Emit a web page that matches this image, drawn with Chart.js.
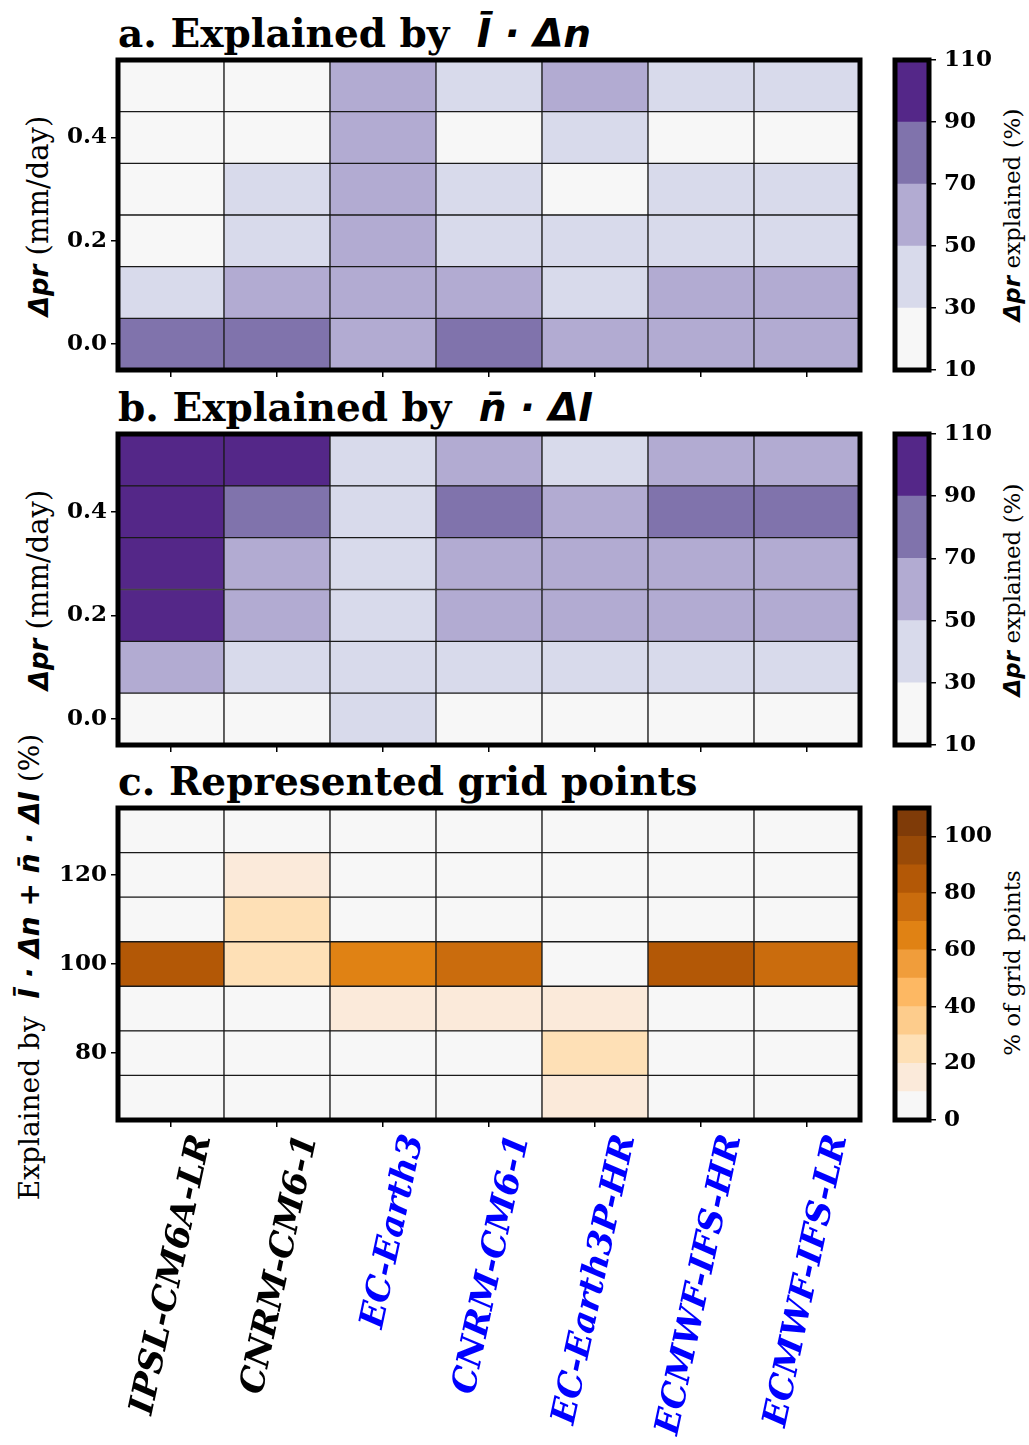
<!DOCTYPE html>
<html>
<head>
<meta charset="utf-8">
<script src="https://cdn.jsdelivr.net/npm/chart.js@4.4.1/dist/chart.umd.min.js"></script>
<style>
  body { margin: 0; background: #fff; width: 1029px; height: 1445px; position: relative; overflow: hidden; }
  canvas { position: absolute; }
  .ttl { position: absolute; left: 118px; font: bold 39px "DejaVu Serif"; white-space: nowrap; line-height: 39px; color: #000; }
  .m { font-family: "DejaVu Sans"; font-weight: bold; font-style: italic; }
  .lab { position: absolute; white-space: nowrap; font: 29px "DejaVu Serif"; color: #000;
         transform: translate(-50%, -50%) rotate(-90deg); line-height: 1; }
  .lab .m { font-size: 26px; }
  .labc { font-size: 28px; }
  .labc .m { font-size: 28px; }
  .cbl { font-size: 23px; }
  .cbl .m { font-size: 23px; }
</style>
</head>
<body>
<div class="ttl" style="top:14px">a. Explained by &nbsp;<span class="m">Ī · Δn</span></div>
<div class="ttl" style="top:388px">b. Explained by &nbsp;<span class="m">n̄ · ΔI</span></div>
<div class="ttl" style="top:762px">c. Represented grid points</div>

<div class="lab" style="left:38px; top:216px"><span class="m">Δpr</span> (mm/day)</div>
<div class="lab" style="left:38px; top:590px"><span class="m">Δpr</span> (mm/day)</div>
<div class="lab labc" style="left:30px; top:967px">Explained by &nbsp;<span class="m">Ī · Δn + n̄ · ΔI</span> (%)</div>

<div class="lab cbl" style="left:1012px; top:215px"><span class="m">Δpr</span> explained (%)</div>
<div class="lab cbl" style="left:1012px; top:590px"><span class="m">Δpr</span> explained (%)</div>
<div class="lab cbl" style="left:1012px; top:963px">% of grid points</div>

<canvas id="heatA" width="880" height="380" style="left:0; top:0"></canvas>
<canvas id="heatB" width="880" height="380" style="left:0; top:374px"></canvas>
<canvas id="heatC" width="880" height="697" style="left:0; top:748px"></canvas>
<canvas id="barA" width="144" height="390" style="left:885px; top:0"></canvas>
<canvas id="barB" width="144" height="390" style="left:885px; top:374px"></canvas>
<canvas id="barC" width="144" height="390" style="left:885px; top:748px"></canvas>

<script>
// models on the x axis
var models = ["IPSL-CM6A-LR", "CNRM-CM6-1", "EC-Earth3", "CNRM-CM6-1", "EC-Earth3P-HR", "ECMWF-IFS-HR", "ECMWF-IFS-LR"];
var modelColors = ["#000", "#000", "#0000ff", "#0000ff", "#0000ff", "#0000ff", "#0000ff"];

// delta pr bins (rows of a and b, bottom to top)
var prBins = [0.0, 0.1, 0.2, 0.3, 0.4, 0.5];
var prTicks = [0.0, 0.2, 0.4];

// % of delta pr explained by Ibar*dn, one list per pr bin
var explainedA = [
  [82, 78, 62, 80, 58, 61, 63],
  [42, 56, 60, 58, 44, 57, 59],
  [22, 38, 62, 41, 43, 39, 41],
  [24, 42, 61, 39, 26, 41, 42],
  [21, 23, 63, 25, 44, 22, 24],
  [23, 25, 64, 43, 59, 42, 40]
];
// % of delta pr explained by nbar*dI
var explainedB = [
  [18, 22, 38, 24, 22, 21, 23],
  [58, 44, 42, 42, 43, 41, 42],
  [98, 60, 41, 58, 62, 59, 61],
  [99, 62, 43, 61, 58, 60, 62],
  [101, 78, 44, 79, 62, 81, 79],
  [102, 96, 42, 64, 44, 58, 62]
];

// sum ratio bins (rows of c, bottom to top)
var ratioBins = [70, 80, 90, 100, 110, 120, 130];
var ratioTicks = [80, 100, 120];
var gridPoints = [
  [2, 1, 1, 2, 14, 1, 1],
  [1, 2, 2, 3, 24, 1, 2],
  [3, 4, 15, 13, 16, 3, 4],
  [86, 26, 65, 75, 5, 84, 74],
  [2, 24, 3, 2, 1, 2, 1],
  [1, 13, 1, 1, 1, 1, 1],
  [1, 2, 1, 1, 1, 1, 1]
];

// colour levels
var purpleLevels = [10, 30, 50, 70, 90, 110];
var purpleColors = ["#f7f7f7", "#d8daeb", "#b2abd2", "#8073ac", "#542788"];
var orangeLevels = [0, 10, 20, 30, 40, 50, 60, 70, 80, 90, 100, 110];
var orangeColors = ["#f7f7f7", "#fbeada", "#fee0b6", "#fdcc8c", "#fdb863", "#f09d3b", "#e08214",
                    "#ca6c0d", "#b35806", "#994a07", "#7f3b08"];
var orangeTicks = [0, 20, 40, 60, 80, 100];

var tickFont = { family: "DejaVu Serif", weight: "bold", size: 23 };

function colorFor(v, levels, colors) {
  for (var i = 0; i < colors.length; i++) {
    if (v < levels[i + 1]) return colors[i];
  }
  return colors[colors.length - 1];
}

// thick black frame around the plot area
var framePlugin = {
  id: "frame",
  afterDraw: function (chart) {
    var a = chart.chartArea, ctx = chart.ctx;
    ctx.save();
    ctx.lineWidth = 5;
    ctx.strokeStyle = "#000";
    ctx.strokeRect(a.left, a.top, a.right - a.left, a.bottom - a.top);
    ctx.restore();
  }
};

// keep the y labels from pushing the plot area around
function noPad(s) {
  s.paddingTop = 0;
  s.paddingBottom = 0;
}

function heatmap(id, bins, step, values, yTicks, levels, colors, decimals, showNames, xHeight) {
  var datasets = values.map(function (row, i) {
    return {
      data: row.map(function () { return [bins[i] - step / 2, bins[i] + step / 2]; }),
      backgroundColor: row.map(function (v) { return colorFor(v, levels, colors); }),
      borderColor: "#1a1a1a",
      borderWidth: 1,
      borderSkipped: false,
      barPercentage: 1,
      categoryPercentage: 1,
      grouped: false
    };
  });
  return new Chart(id, {
    type: "bar",
    data: { labels: models, datasets: datasets },
    plugins: [framePlugin],
    options: {
      responsive: false,
      animation: false,
      layout: { padding: { top: 60, right: 20, left: 0, bottom: 0 } },
      plugins: { legend: { display: false }, tooltip: { enabled: false } },
      scales: {
        x: {
          grid: { display: true, drawOnChartArea: false, drawTicks: true, tickLength: 7, color: "#000", offset: false, lineWidth: 1.5 },
          border: { display: false },
          ticks: {
            autoSkip: false,
            minRotation: showNames ? 78 : 0,
            maxRotation: showNames ? 78 : 0,
            labelOffset: showNames ? 31 : 0,
            padding: 4,
            font: { family: "DejaVu Serif", weight: "bold", style: "italic", size: 34 },
            color: function (c) { return modelColors[c.index]; },
            callback: function (v, i) { return showNames ? models[i] : ""; }
          },
          afterFit: function (s) { s.height = xHeight; s.paddingLeft = 0; s.paddingRight = 0; }
        },
        y: {
          min: bins[0] - step / 2,
          max: bins[bins.length - 1] + step / 2,
          afterBuildTicks: function (s) { s.ticks = yTicks.map(function (v) { return { value: v }; }); },
          grid: { drawOnChartArea: false, drawTicks: true, tickLength: 7, color: "#000", lineWidth: 1.5 },
          border: { display: false },
          ticks: {
            font: tickFont, color: "#000", padding: 4,
            callback: function (v) { return v.toFixed(decimals); }
          },
          afterFit: function (s) { s.width = 118; noPad(s); }
        }
      }
    }
  });
}

function colorbar(id, levels, colors, ticks, padBottom) {
  var datasets = colors.map(function (c, i) {
    return {
      data: [[levels[i], levels[i + 1]]],
      backgroundColor: c,
      borderWidth: 0,
      barPercentage: 1,
      categoryPercentage: 1,
      grouped: false
    };
  });
  return new Chart(id, {
    type: "bar",
    data: { labels: [""], datasets: datasets },
    plugins: [framePlugin],
    options: {
      responsive: false,
      animation: false,
      layout: { padding: { top: 60, bottom: padBottom, left: 10, right: 0 } },
      plugins: { legend: { display: false }, tooltip: { enabled: false } },
      scales: {
        x: { display: false },
        y: {
          position: "right",
          min: levels[0],
          max: levels[levels.length - 1],
          afterBuildTicks: function (s) { s.ticks = ticks.map(function (v) { return { value: v }; }); },
          grid: { drawOnChartArea: false, drawTicks: true, tickLength: 7, color: "#000", lineWidth: 1.5 },
          border: { display: false },
          ticks: { font: tickFont, color: "#000", padding: 8 },
          afterFit: function (s) { s.width = 100; noPad(s); }
        }
      }
    }
  });
}

heatmap("heatA", prBins, 0.1, explainedA, prTicks, purpleLevels, purpleColors, 1, false, 10);
heatmap("heatB", prBins, 0.1, explainedB, prTicks, purpleLevels, purpleColors, 1, false, 9);
heatmap("heatC", ratioBins, 10, gridPoints, ratioTicks, orangeLevels, orangeColors, 0, true, 325);
colorbar("barA", purpleLevels, purpleColors, purpleLevels, 20);
colorbar("barB", purpleLevels, purpleColors, purpleLevels, 19);
colorbar("barC", orangeLevels, orangeColors, orangeTicks, 18);
</script>
</body>
</html>
